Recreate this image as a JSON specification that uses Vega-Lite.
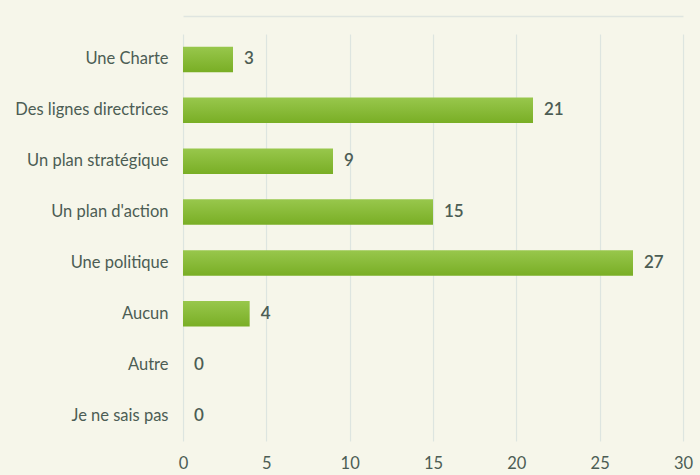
{
  "$schema": "https://vega.github.io/schema/vega-lite/v6.json",
  "width": 500,
  "height": 407,
  "autosize": "none",
  "padding": {"left": 183, "top": 34, "right": 17, "bottom": 34},
  "background": "#f6f6ea",
  "config": {
    "view": {"stroke": null},
    "font": "Lato",
    "axis": {"labelFont": "Lato", "labelColor": "#4c5d54", "labelFontSize": 16.5}
  },
  "data": {
    "values": [
      {"categorie": "Une Charte", "nombre": 3},
      {"categorie": "Des lignes directrices", "nombre": 21},
      {"categorie": "Un plan stratégique", "nombre": 9},
      {"categorie": "Un plan d'action", "nombre": 15},
      {"categorie": "Une politique", "nombre": 27},
      {"categorie": "Aucun", "nombre": 4},
      {"categorie": "Autre", "nombre": 0},
      {"categorie": "Je ne sais pas", "nombre": 0}
    ]
  },
  "encoding": {
    "y": {
      "field": "categorie",
      "type": "nominal",
      "sort": null,
      "scale": {"paddingInner": 0.5, "paddingOuter": 0.25},
      "axis": {"title": null, "domain": false, "ticks": false, "labelPadding": 15, "grid": false}
    }
  },
  "layer": [
    {
      "mark": {
        "type": "bar",
        "color": {
          "gradient": "linear",
          "x1": 0, "y1": 0, "x2": 0, "y2": 1,
          "stops": [
            {"offset": 0, "color": "#98c74c"},
            {"offset": 1, "color": "#79ae25"}
          ]
        }
      },
      "encoding": {
        "x": {
          "field": "nombre",
          "type": "quantitative",
          "scale": {"domain": [0, 30]},
          "axis": {
            "title": null,
            "values": [0, 5, 10, 15, 20, 25, 30],
            "grid": true,
            "gridColor": "#dde5e0",
            "gridWidth": 1.2,
            "domain": false,
            "ticks": false,
            "labelPadding": 14,
            "labelFlush": false
          }
        }
      }
    },
    {
      "mark": {"type": "text", "align": "left", "baseline": "middle", "dx": 11, "fontSize": 17, "color": "#4c5d54", "fontWeight": 600},
      "encoding": {
        "x": {
          "field": "nombre",
          "type": "quantitative",
          "axis": {
            "orient": "top",
            "title": null,
            "labels": false,
            "ticks": false,
            "grid": false,
            "domain": true,
            "domainColor": "#dfe5e0",
            "domainWidth": 1.5,
            "offset": 18
          }
        },
        "text": {"field": "nombre", "type": "quantitative"}
      }
    }
  ],
  "resolve": {"axis": {"x": "independent"}}
}
